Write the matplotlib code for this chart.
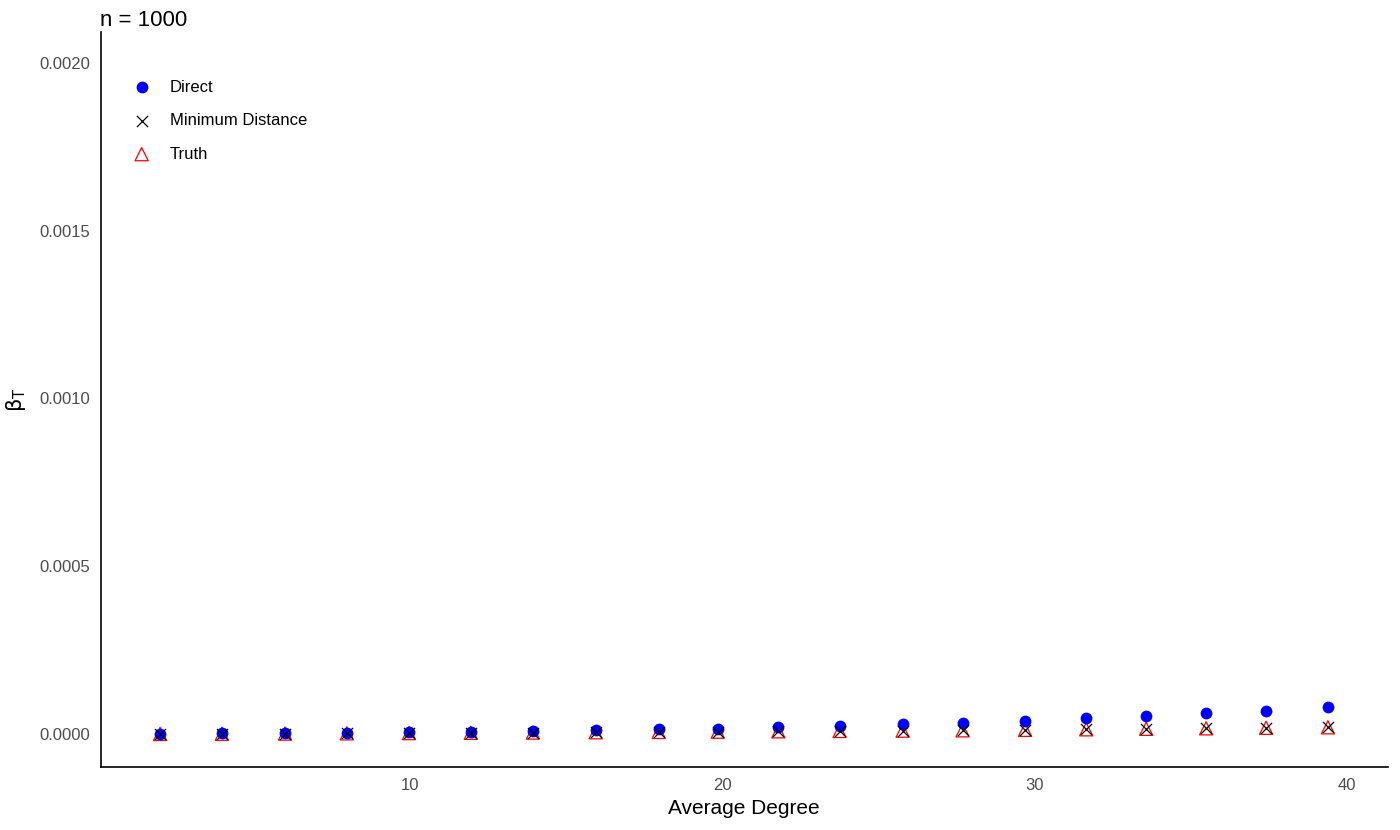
import matplotlib.pyplot as plt
import numpy as np

plt.rcParams['font.family'] = ['Liberation Sans', 'DejaVu Sans']
plt.rcParams['mathtext.fontset'] = 'custom'
plt.rcParams['mathtext.rm'] = 'DejaVu Sans'
plt.rcParams['mathtext.it'] = 'DejaVu Sans:italic'

# average degree of each simulated graph
degree = [2.0, 3.98, 6.0, 7.98, 9.97, 11.95, 13.94, 15.95, 17.97, 19.86,
          21.8, 23.76, 25.78, 27.7, 29.7, 31.66, 33.58, 35.5, 37.42, 39.4]
direct = [1e-6, 2e-6, 3e-6, 4e-6, 5e-6, 7e-6, 1.0e-5, 1.2e-5, 1.4e-5, 1.6e-5,
          2.1e-5, 2.4e-5, 2.9e-5, 3.4e-5, 4.0e-5, 4.7e-5, 5.4e-5, 6.2e-5, 6.9e-5, 7.9e-5]
min_dist = [0.3e-6, 0.8e-6, 1.3e-6, 2e-6, 2.7e-6, 3.5e-6, 4.3e-6, 5.2e-6, 6.2e-6, 7.0e-6,
            8.0e-6, 9.0e-6, 1.0e-5, 1.1e-5, 1.25e-5, 1.4e-5, 1.55e-5, 1.7e-5, 1.85e-5, 2.0e-5]
truth = [0.3e-6, 0.8e-6, 1.3e-6, 2e-6, 2.7e-6, 3.5e-6, 4.3e-6, 5.2e-6, 6.2e-6, 7.0e-6,
         8.0e-6, 9.0e-6, 1.0e-5, 1.1e-5, 1.25e-5, 1.4e-5, 1.55e-5, 1.7e-5, 1.85e-5, 2.0e-5]

fig = plt.figure(figsize=(14, 8.3), dpi=100)
ax = fig.add_axes([0.0721, 0.0759, 0.919, 0.8855])

ax.scatter(degree, direct, s=72, color='#0000FF', marker='o', lw=0, label='Direct', zorder=3)
ax.scatter(degree, min_dist, s=64, color='black', marker='x', lw=0.9, label='Minimum Distance', zorder=4)
ax.scatter(degree, truth, s=90, facecolor='none', edgecolor='#FF0000', marker='^', lw=0.9,
           label='Truth', zorder=2)

ax.set_xlim(0.105, 41.31)
ax.set_ylim(-9.84e-5, 0.002092)
ax.set_xticks([10, 20, 30, 40])
ax.set_yticks([0, 0.0005, 0.001, 0.0015, 0.002])
ax.set_yticklabels(['0.0000', '0.0005', '0.0010', '0.0015', '0.0020'])
ax.tick_params(length=0, labelsize=12, labelcolor='#4D4D4D', pad=8)

for s in ['top', 'right']:
    ax.spines[s].set_visible(False)
for s in ['left', 'bottom']:
    ax.spines[s].set_linewidth(1.2)

ax.set_xlabel('Average Degree', fontsize=15, labelpad=4)
ax.set_ylabel(r'$\mathrm{\beta_T}$', fontsize=15, labelpad=8)
ax.set_title('n = 1000', loc='left', fontsize=16, pad=4, x=-0.001)

leg = ax.legend(loc='upper left', bbox_to_anchor=(0.0135, 0.944), frameon=False, fontsize=12,
                handletextpad=0.7, labelspacing=1.1, borderaxespad=0)

fig.savefig('out.png', dpi=100)
